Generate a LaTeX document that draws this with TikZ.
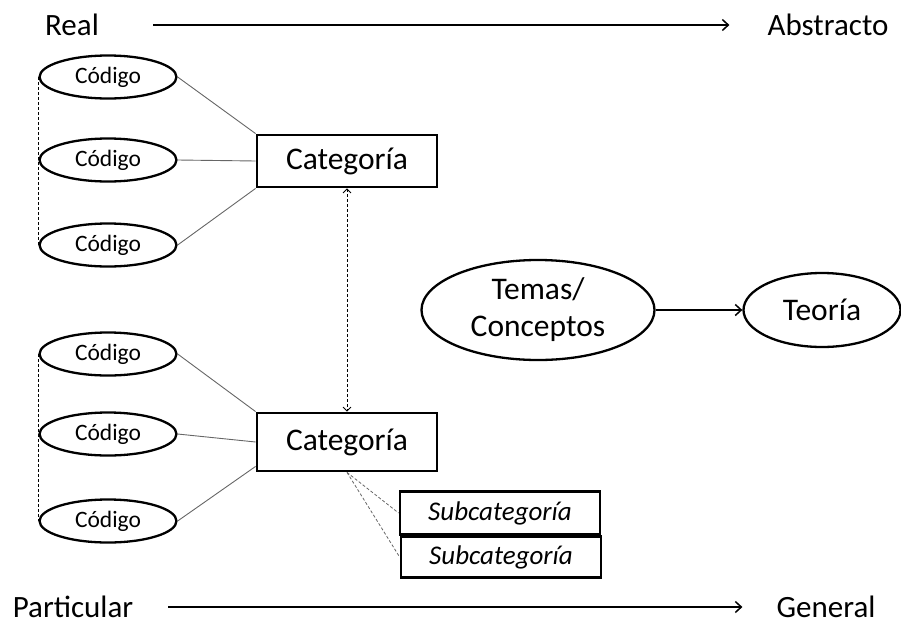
\documentclass[tikz,border=0pt]{standalone}
\usepackage{fontspec}
\setmainfont{Carlito}
\usetikzlibrary{shapes.geometric,arrows.meta}

\begin{document}
\begin{tikzpicture}[x=1pt,y=-1pt,
    codigo/.style={ellipse,draw,line width=2.3pt,inner sep=0pt,minimum width=137pt,minimum height=43pt,font=\fontsize{23.5}{26}\selectfont},
    categoria/.style={rectangle,draw,line width=2.8pt,inner sep=0pt,minimum width=180pt,font=\fontsize{31.5}{36}\selectfont},
    subcat/.style={rectangle,draw,line width=2.8pt,inner sep=0pt,minimum width=200pt,font=\fontsize{27}{30}\selectfont\itshape},
    grande/.style={ellipse,draw,line width=2.3pt,inner sep=0pt,font=\fontsize{31.5}{37}\selectfont,align=center},
    etiqueta/.style={inner sep=0pt,font=\fontsize{31}{36}\selectfont},
    fino/.style={gray!80!black,line width=0.9pt},
    punteado/.style={line width=0.8pt,dash pattern=on 3pt off 2pt},
    flecha/.style={line width=1.5pt,-{Straight Barb[length=6pt,width=11pt]}}]
        \useasboundingbox (0,0) rectangle (901,629);

        \node[etiqueta] (real) at (72,25) {Real};
        \node[etiqueta] (abstracto) at (828,25) {Abstracto};
        \node[etiqueta] (particular) at (73,607) {Particular};
        \node[etiqueta] (general) at (826,607) {General};
        \draw[flecha,shorten <=54pt,shorten >=38pt] (real.east) -- (abstracto.west);
        \draw[flecha,shorten <=35pt,shorten >=34pt] (particular.east) -- (general.west);

        \foreach \n/\y in {1/77,2/160,3/245,4/354,5/434,6/521}{
          \node[codigo] (cod\n) at (108,\y) {Código};
        }

        \node[categoria,minimum height=52pt] (cat1) at (347,161) {Categoría};
        \node[categoria,minimum height=58pt] (cat2) at (347,442) {Categoría};
        \node[subcat,minimum height=43pt] (sub1) at (500,513) {Subcategoría};
        \node[subcat,minimum height=41pt] (sub2) at (501,557) {Subcategoría};

        \node[grande,minimum width=233pt,minimum height=100pt] (temas) at (538,310) {Temas/\\Conceptos};
        \node[grande,minimum width=157pt,minimum height=74pt] (teoria) at (822,310) {Teoría};

        \draw[fino] (cod1.east) -- (cat1.north west);
        \draw[fino] (cod2.east) -- (cat1.west);
        \draw[fino] (cod3.east) -- (cat1.south west);
        \draw[fino] (cod4.east) -- (cat2.north west);
        \draw[fino] (cod5.east) -- (cat2.west);
        \draw[fino] (cod6.east) -- ([yshift=6pt]cat2.south west);

        \draw[punteado] (cod1.west) -- (cod3.west);
        \draw[punteado] (cod4.west) -- (cod6.west);

        \draw[punteado,{Straight Barb[length=4pt,width=8pt]}-{Straight Barb[length=4pt,width=8pt]}] (cat1.south) -- (cat2.north);
        \draw[punteado,gray!80!black] (cat2.south) -- (sub1.west);
        \draw[punteado,gray!80!black] (cat2.south) -- (sub2.west);

        \draw[flecha] (temas.east) -- (teoria.west);

      \end{tikzpicture}
\end{document}
